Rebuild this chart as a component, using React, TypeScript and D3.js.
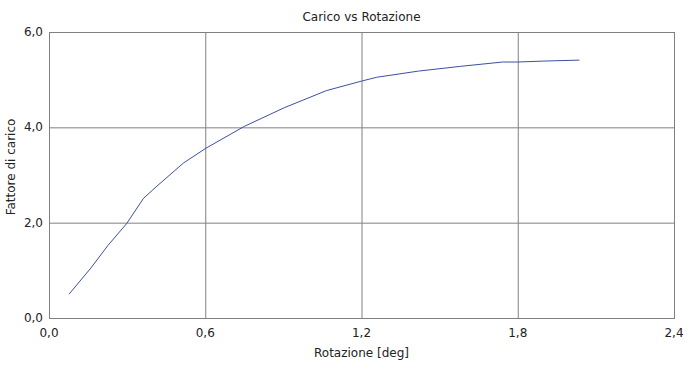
import React from "react";
import * as d3 from "d3";

const rotation = [0.077, 0.161, 0.226, 0.298, 0.363, 0.411, 0.516, 0.602, 0.75, 0.903, 1.065, 1.2, 1.258, 1.419, 1.581, 1.742, 1.8, 1.9, 2.037];
const loadFactor = [0.5, 1.05, 1.52, 1.98, 2.51, 2.75, 3.25, 3.56, 4.02, 4.41, 4.77, 4.97, 5.05, 5.18, 5.28, 5.37, 5.37, 5.39, 5.41];
const xTicks = [0, 0.6, 1.2, 1.8, 2.4];
const yTicks = [0, 2, 4, 6];

const W = 700, H = 369;
const L = 49, R = 674, T = 32, B = 318;
const font = "Tahoma, 'DejaVu Sans', sans-serif";

export default function App() {
  const x = d3.scaleLinear().domain([0, 2.4]).range([L, R]);
  const y = d3.scaleLinear().domain([0, 6]).range([B, T]);
  const fmt = (v: number) => v.toFixed(1).replace(".", ",");
  const pts = rotation.map((r, i) => [r, loadFactor[i]] as [number, number]);
  const line = d3.line<[number, number]>().x(d => x(d[0])).y(d => y(d[1]))(pts) || "";
  return (
    <svg width={W} height={H} style={{ position: "absolute", left: 0, top: 0, background: "#fff" }} fontFamily={font}>
      <rect x={0} y={0} width={W} height={H} fill="#fff" />
      {xTicks.map(t => (
        <line key={"gx" + t} x1={x(t) + 0.5} x2={x(t) + 0.5} y1={T} y2={B} stroke="#808080" strokeWidth={1} />
      ))}
      {yTicks.map(t => (
        <line key={"gy" + t} x1={L} x2={R} y1={y(t) + 0.5} y2={y(t) + 0.5} stroke="#808080" strokeWidth={1} />
      ))}
      <rect x={L + 0.5} y={T + 0.5} width={R - L} height={B - T} fill="none" stroke="#808080" strokeWidth={1} />
      <path d={line} fill="none" stroke="#3c50a0" strokeWidth={1} />
      {xTicks.map(t => (
        <text key={"tx" + t} x={x(t)} y={B + 19} textAnchor="middle" fontSize={12} fill="#222">{fmt(t)}</text>
      ))}
      {yTicks.map(t => (
        <text key={"ty" + t} x={L - 6} y={y(t) + 4} textAnchor="end" fontSize={12} fill="#222">{fmt(t)}</text>
      ))}
      <text x={(L + R) / 2} y={21} textAnchor="middle" fontSize={12} fill="#222">Carico vs Rotazione</text>
      <text x={(L + R) / 2} y={357} textAnchor="middle" fontSize={12} fill="#222">Rotazione [deg]</text>
      <text transform={`translate(15,167) rotate(-90)`} textAnchor="middle" fontSize={12} fill="#222">Fattore di carico</text>
    </svg>
  );
}
